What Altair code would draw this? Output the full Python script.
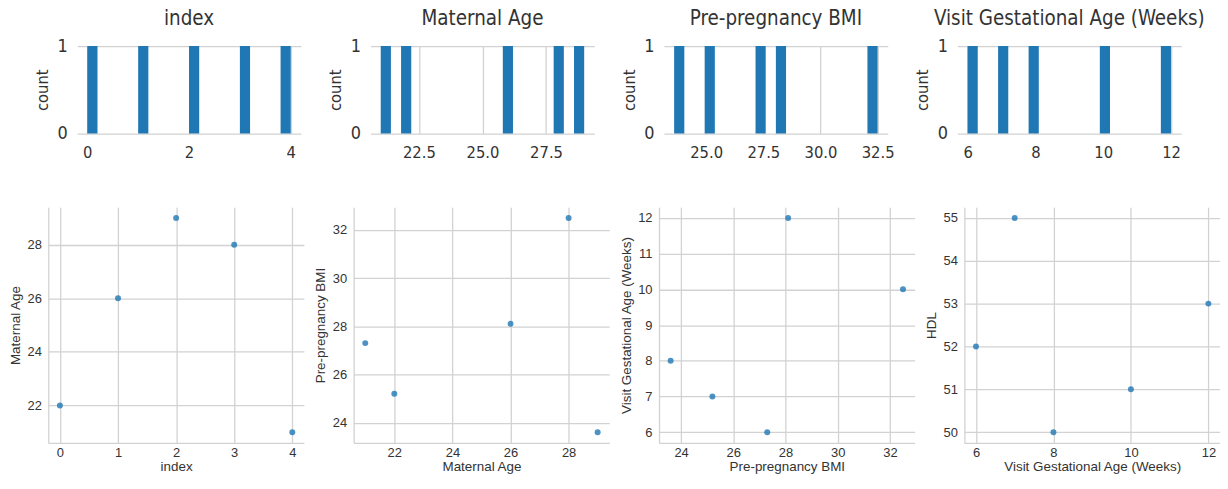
import altair as alt
import pandas as pd

# ---- data ----
index_vals = [0, 1, 2, 3, 4]
maternal_age = [22, 26, 29, 28, 21]
prepreg_bmi = [25.2, 28.1, 23.6, 32.5, 27.3]
visit_ga = [7, 12, 8, 10, 6]
hdl = [55, 53, 50, 51, 52]

keys = ["c0", "c1", "c2", "c3", "c4"]
titles = ["index", "Maternal Age", "Pre-pregnancy BMI", "Visit Gestational Age (Weeks)", "HDL"]
series = [index_vals, maternal_age, prepreg_bmi, visit_ga, hdl]

hist_ticks = [[0, 2, 4], [22.5, 25.0, 27.5], [25.0, 27.5, 30.0, 32.5], [6, 8, 10, 12]]
hist_fmt = ["d", ".1f", ".1f", "d"]
scatter_xticks = [[0, 1, 2, 3, 4], [22, 24, 26, 28], [24, 26, 28, 30, 32], [6, 8, 10, 12]]
scatter_yticks = [[22, 24, 26, 28], [24, 26, 28, 30, 32], [6, 7, 8, 9, 10, 11, 12], [50, 51, 52, 53, 54, 55]]

df = pd.DataFrame({k: v for k, v in zip(keys, series)})

NARROW = "DejaVu Sans Condensed, Liberation Sans, sans-serif"
REG = "Liberation Sans, Arial, sans-serif"
GRID = "#d2d2d2"
GW = 1.3
TXT = "#333333"


def padded(vals):
    mn, mx = min(vals), max(vals)
    p = 0.05 * (mx - mn)
    return [mn - p, mx + p]


def hist(i):
    key = keys[i]
    vals = series[i]
    mn, mx = min(vals), max(vals)
    step = (mx - mn) / 20
    b0, b1, cnt = f"b0_{i}", f"b1_{i}", f"cnt_{i}"
    return (
        alt.Chart(df)
        .transform_bin([b0, b1], field=key,
                       bin=alt.Bin(extent=[mn, mx], step=step, nice=False))
        .transform_aggregate(**{cnt: "count()"}, groupby=[b0, b1])
        .mark_rect(color="#1f77b4")
        .encode(
            x=alt.X(f"{b0}:Q",
                    scale=alt.Scale(domain=padded(vals), nice=False, zero=False),
                    axis=alt.Axis(values=hist_ticks[i], format=hist_fmt[i], title=None,
                                  grid=True, gridColor=GRID, gridWidth=GW,
                                  domain=False, ticks=False, tickSize=0,
                                  labelFont=NARROW, labelFontSize=16.5, labelColor=TXT,
                                  labelPadding=11, labelFlush=False, labelOverlap=False)),
            x2=f"{b1}:Q",
            y=alt.Y(f"{cnt}:Q",
                    scale=alt.Scale(domain=[0, 1], nice=False, zero=True),
                    axis=alt.Axis(values=[0, 1], format="d", title="count",
                                  titleFont=NARROW, titleFontSize=16.5, titleFontWeight="normal",
                                  titleColor=TXT, titleX=-30, titleBaseline="alphabetic",
                                  grid=True, gridColor=GRID, gridWidth=GW,
                                  domain=False, ticks=False, tickSize=0,
                                  labelFont=NARROW, labelFontSize=18, labelColor=TXT,
                                  labelPadding=10, labelFlush=False)),
            y2=alt.datum(0),
        )
        .properties(width=225, height=88,
                    title=alt.TitleParams(titles[i], font=NARROW, fontSize=20.5,
                                          fontWeight="normal", color=TXT,
                                          baseline="alphabetic", offset=-8.5))
    )


def scatter(i):
    xk, yk = keys[i], keys[i + 1]
    return (
        alt.Chart(df)
        .mark_circle(size=36, color="#1f77b4", opacity=0.8)
        .encode(
            x=alt.X(f"{xk}:Q",
                    scale=alt.Scale(domain=padded(series[i]), nice=False, zero=False),
                    axis=alt.Axis(values=scatter_xticks[i], format="d", title=titles[i],
                                  titleFont=REG, titleFontSize=13.5, titleFontWeight="normal",
                                  titleColor=TXT, titleY=28, titleBaseline="alphabetic",
                                  grid=True, gridColor=GRID, gridWidth=GW,
                                  domain=True, domainColor=GRID, domainWidth=GW,
                                  ticks=False, tickSize=0,
                                  labelFont=REG, labelFontSize=13, labelColor=TXT,
                                  labelPadding=4, labelFlush=False, labelOverlap=False)),
            y=alt.Y(f"{yk}:Q",
                    scale=alt.Scale(domain=padded(series[i + 1]), nice=False, zero=False),
                    axis=alt.Axis(values=scatter_yticks[i], format="d", title=titles[i + 1],
                                  titleFont=REG, titleFontSize=13.5, titleFontWeight="normal",
                                  titleColor=TXT, titleX=-29, titleBaseline="alphabetic",
                                  grid=True, gridColor=GRID, gridWidth=GW,
                                  domain=True, domainColor=GRID, domainWidth=GW,
                                  ticks=False, tickSize=0,
                                  labelFont=REG, labelFontSize=13, labelColor=TXT,
                                  labelPadding=7, labelFlush=False, labelOverlap=False)),
        )
        .properties(width=257, height=237)
    )


spacer = (
    alt.Chart(pd.DataFrame({"a": [0]}))
    .mark_rect(opacity=0)
    .encode(x=alt.value(0), x2=alt.value(1), y=alt.value(0), y2=alt.value(1))
    .properties(width=1, height=1)
)

inner_top = alt.hconcat(*[hist(i) for i in range(4)]).properties(bounds="flush", spacing=70)
top = alt.hconcat(spacer, inner_top).properties(bounds="flush", spacing=28)
bottom = alt.hconcat(*[scatter(i) for i in range(4)]).properties(bounds="flush", spacing=50)

chart = (
    alt.vconcat(top, bottom, spacing=46)
    .properties(padding={"left": 0.5, "top": 0, "right": 0, "bottom": 0}, background="white")
    .configure_view(stroke=None)
)

chart.save("out.html", embed_options={"renderer": "svg", "actions": False})
